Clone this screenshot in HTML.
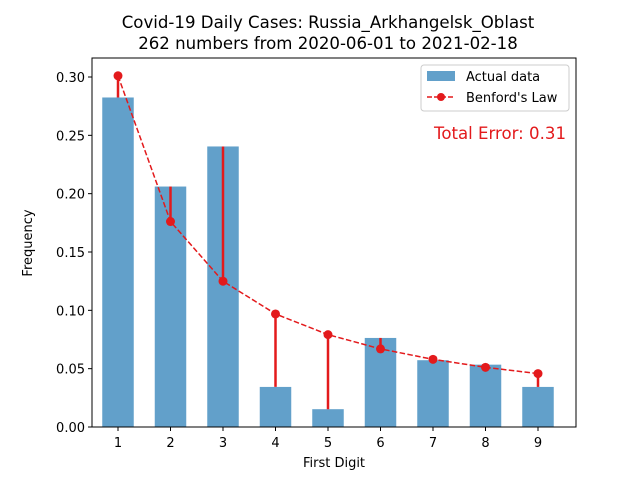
<!DOCTYPE html>
<html><head><meta charset="utf-8"><style>
body{margin:0;background:#fff}
svg{display:block;font-family:"DejaVu Sans","Liberation Sans",sans-serif}
</style></head><body>
<svg id="chart" width="640" height="480" xmlns="http://www.w3.org/2000/svg">
<text x="328" y="28" text-anchor="middle" font-size="16.6">Covid-19 Daily Cases: Russia_Arkhangelsk_Oblast</text>
<text x="328" y="49" text-anchor="middle" font-size="16.6">262 numbers from 2020-06-01 to 2021-02-18</text>
<g id="bars"></g><g id="ticks"></g><g id="benford"></g>
<rect x="92" y="58" width="484" height="369" fill="none" stroke="#000" stroke-width="1"/>
<text x="334" y="467" text-anchor="middle" font-size="13">First Digit</text>
<text transform="translate(32,243) rotate(-90)" text-anchor="middle" font-size="13">Frequency</text>
<g>
<rect x="421" y="65" width="148" height="46" rx="3" fill="#fff" fill-opacity="0.8" stroke="#ccc"/>
<rect x="427" y="71" width="28" height="10" fill="#1f77b4" fill-opacity="0.7"/>
<text x="466" y="81" font-size="13">Actual data</text>
<line x1="427" y1="97" x2="455" y2="97" stroke="#e31a1c" stroke-width="1.5" stroke-dasharray="5,2"/>
<circle cx="441" cy="97" r="4" fill="#e31a1c"/>
<text x="466" y="102" font-size="13">Benford's Law</text>
</g>
<text x="566" y="139" text-anchor="end" font-size="16.6" fill="#e31a1c">Total Error: 0.31</text>
</svg>
<script>
const digits=[1,2,3,4,5,6,7,8,9];
const counts=[74,54,63,9,4,20,15,14,9];
const total=262;
const yTicks=[0,0.05,0.10,0.15,0.20,0.25,0.30];
const yTickLabels=["0.00","0.05","0.10","0.15","0.20","0.25","0.30"];
const NS="http://www.w3.org/2000/svg";
const X=d=>118+(d-1)*52.5;
const Y=v=>427-v*1166.67;
function mk(tag,attrs,parent,text){const e=document.createElementNS(NS,tag);for(const k in attrs)e.setAttribute(k,attrs[k]);if(text!==undefined)e.textContent=text;parent.appendChild(e);return e;}
const bars=document.getElementById('bars'),ticks=document.getElementById('ticks'),ben=document.getElementById('benford');
const actual=counts.map(c=>c/total);
const benf=digits.map(d=>Math.log10(1+1/d));
digits.forEach((d,i)=>{
  const r=mk('rect',{x:X(d)-15.75,y:Y(actual[i]),width:31.5,height:Y(0)-Y(actual[i]),fill:'#1f77b4','fill-opacity':0.7},bars);
  
  
  const t=mk('line',{x1:X(d),x2:X(d),y1:427,y2:431,stroke:'#000'},ticks);
  
  
  const l=mk('text',{x:X(d),y:447,'text-anchor':'middle','font-size':13},ticks,String(d));
  
  
});
yTicks.forEach((v,i)=>{
  const t=mk('line',{x1:88,x2:92,y1:Y(v),y2:Y(v),stroke:'#000'},ticks);
  
  
  const l=mk('text',{x:85,y:Y(v)+5,'text-anchor':'end','font-size':13},ticks,yTickLabels[i]);
  
  
});
const p=mk('polyline',{points:digits.map((d,i)=>X(d)+','+Y(benf[i])).join(' '),fill:'none',stroke:'#e31a1c','stroke-width':1.5,'stroke-dasharray':'5.5,2.4'},ben);


digits.forEach((d,i)=>{
  const e=mk('line',{x1:X(d),x2:X(d),y1:Y(benf[i]),y2:Y(actual[i]),stroke:'#e31a1c','stroke-width':2.5},ben);
  
  
  const c=mk('circle',{cx:X(d),cy:Y(benf[i]),r:4.5,fill:'#e31a1c'},ben);
  
  
});
</script>
</body></html>
